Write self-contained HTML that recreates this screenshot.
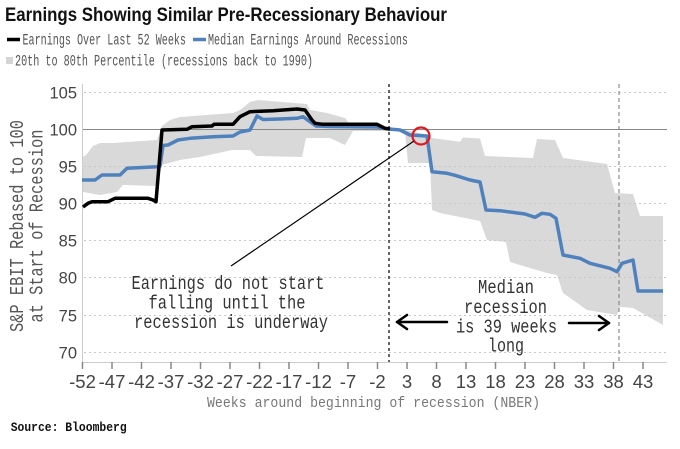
<!DOCTYPE html>
<html>
<head>
<meta charset="utf-8">
<style>
html,body{margin:0;padding:0;background:#fff;}
svg{display:block;}
</style>
</head>
<body>
<svg width="680" height="449" viewBox="0 0 680 449" xmlns="http://www.w3.org/2000/svg">
<rect x="0" y="0" width="680" height="449" fill="#fff"/>

<!-- Title -->
<text x="5" y="21" font-family="Liberation Sans, sans-serif" font-weight="bold" font-size="19" fill="#111" textLength="442" lengthAdjust="spacingAndGlyphs">Earnings Showing Similar Pre-Recessionary Behaviour</text>

<!-- Legend -->
<line x1="7" y1="39.5" x2="20" y2="39.5" stroke="#000" stroke-width="3.5"/>
<text x="22.5" y="44.5" font-family="Liberation Mono, monospace" font-size="15.5" fill="#555" textLength="163.5" lengthAdjust="spacingAndGlyphs">Earnings Over Last 52 Weeks</text>
<line x1="193" y1="39.5" x2="206" y2="39.5" stroke="#4f81bd" stroke-width="3.5"/>
<text x="208" y="44.5" font-family="Liberation Mono, monospace" font-size="15.5" fill="#555" textLength="200" lengthAdjust="spacingAndGlyphs">Median Earnings Around Recessions</text>
<rect x="6" y="57" width="7" height="7" fill="#d4d4d4"/>
<text x="15" y="65.5" font-family="Liberation Mono, monospace" font-size="15.5" fill="#555" textLength="298" lengthAdjust="spacingAndGlyphs">20th to 80th Percentile (recessions back to 1990)</text>

<!-- Gray band -->
<polygon fill="#d9d9d9" points="
82,157 86,155 93,146 100,143 113,143 157,140 162,126 170,120 180,117 233,113 240,110 250,102 258,100 307,104 310,110 327,113 345,118 353,128 389,128 400,128.5 410,131 428,135 432,138 460,141.7 463,137.5 480,138.5 485,156 533,158 537,139 555,140 563,158 607,164 615,193 633,194 640,216 663,216
663,325 633,308 620,307 617,315 587,310 563,293 557,275 547,273 530,268 510,262 506,242 487,240 480,221 440,213 432,210 430,163 408,163 405,131 389,131 353,131 345,145 330,138 306,138 302,157 256,156 250,150 232,150 200,157 180,160 162,165 157,186 123,185 117,192 100,195 83,192"/>

<!-- Gridlines -->
<g stroke="#c8c8c8" stroke-width="1" stroke-dasharray="2,3">
<line x1="84" y1="92.5" x2="667" y2="92.5"/>
<line x1="84" y1="166.5" x2="667" y2="166.5"/>
<line x1="84" y1="203.5" x2="667" y2="203.5"/>
<line x1="84" y1="240.5" x2="667" y2="240.5"/>
<line x1="84" y1="277.5" x2="667" y2="277.5"/>
<line x1="84" y1="315.5" x2="667" y2="315.5"/>
<line x1="84" y1="352.5" x2="667" y2="352.5"/>
</g>
<line x1="82" y1="129.5" x2="667" y2="129.5" stroke="#888" stroke-width="1"/>

<!-- Axes -->
<line x1="82.5" y1="84" x2="82.5" y2="362" stroke="#ccc" stroke-width="1"/>
<line x1="82" y1="362.5" x2="667" y2="362.5" stroke="#ccc" stroke-width="1"/>
<g stroke="#888" stroke-width="1.5">
<line x1="82.5" y1="362" x2="82.5" y2="369"/>
<line x1="112" y1="362" x2="112" y2="369"/>
<line x1="141.5" y1="362" x2="141.5" y2="369"/>
<line x1="171" y1="362" x2="171" y2="369"/>
<line x1="200.5" y1="362" x2="200.5" y2="369"/>
<line x1="230" y1="362" x2="230" y2="369"/>
<line x1="259.5" y1="362" x2="259.5" y2="369"/>
<line x1="289" y1="362" x2="289" y2="369"/>
<line x1="318.5" y1="362" x2="318.5" y2="369"/>
<line x1="348" y1="362" x2="348" y2="369"/>
<line x1="377.5" y1="362" x2="377.5" y2="369"/>
<line x1="407" y1="362" x2="407" y2="369"/>
<line x1="436.5" y1="362" x2="436.5" y2="369"/>
<line x1="466" y1="362" x2="466" y2="369"/>
<line x1="495.5" y1="362" x2="495.5" y2="369"/>
<line x1="525" y1="362" x2="525" y2="369"/>
<line x1="554.5" y1="362" x2="554.5" y2="369"/>
<line x1="584" y1="362" x2="584" y2="369"/>
<line x1="613.5" y1="362" x2="613.5" y2="369"/>
<line x1="643" y1="362" x2="643" y2="369"/>
</g>

<!-- Dashed verticals -->
<line x1="389" y1="84" x2="389" y2="362" stroke="#333" stroke-width="1.5" stroke-dasharray="3,3"/>
<line x1="619" y1="84" x2="619" y2="362" stroke="#777" stroke-width="1" stroke-dasharray="4,3"/>

<!-- Blue median -->
<polyline fill="none" stroke="#4f81bd" stroke-width="3.5" stroke-linejoin="round" points="82,180 95,180 102,175 120,175 127,168.3 157,166.7 160,166 163,145.5 168,145 178,140 190,138.3 213,136.7 233,136 240,132 250,130 257,116 263,119.5 280,119 297,118.3 303,116.7 310,121.7 316,126 330,126.5 377,127 389,129 400,130 410,135 427,136 432,171.7 447,173.3 455,175.3 470,180 480,182 486,210 500,210.7 525,214 535,217.3 542,213.3 550,214.3 556,218.3 563,255 580,258.3 590,263.3 610,268.3 617,271.7 622,263.3 633,260 638,291 663,291"/>

<!-- Black earnings -->
<polyline fill="none" stroke="#000" stroke-width="3.5" stroke-linejoin="round" points="83,207 88,203.3 92,201.7 108,201.7 115,198.3 148,198.3 153,200 156,201.7 162,130 187,129.3 192,126.7 212,126 214,124.3 233,124.3 240,116.7 250,111.7 273,110.7 297,109 305,110 312,120 315,123.3 323,124.3 377,124.3 385,128.3 390,129"/>

<!-- Red circle and annotation line -->
<circle cx="421" cy="136" r="8.5" fill="none" stroke="#e8141c" stroke-width="2.2"/>
<line x1="414" y1="141" x2="231" y2="266" stroke="#000" stroke-width="1.2"/>

<!-- Y tick labels -->
<g font-family="Liberation Sans, sans-serif" font-size="16.5" fill="#444" text-anchor="end">
<text x="77" y="98.5">105</text>
<text x="77" y="135.5">100</text>
<text x="77" y="172.5">95</text>
<text x="77" y="209.5">90</text>
<text x="77" y="246.5">85</text>
<text x="77" y="283.5">80</text>
<text x="77" y="321.5">75</text>
<text x="77" y="358.5">70</text>
</g>

<!-- X tick labels -->
<g font-family="Liberation Sans, sans-serif" font-size="18.5" fill="#444" text-anchor="middle">
<text x="82.5" y="388">-52</text>
<text x="112" y="388">-47</text>
<text x="141.5" y="388">-42</text>
<text x="171" y="388">-37</text>
<text x="200.5" y="388">-32</text>
<text x="230" y="388">-27</text>
<text x="259.5" y="388">-22</text>
<text x="289" y="388">-17</text>
<text x="318.5" y="388">-12</text>
<text x="348" y="388">-7</text>
<text x="377.5" y="388">-2</text>
<text x="407" y="388">3</text>
<text x="436.5" y="388">8</text>
<text x="466" y="388">13</text>
<text x="495.5" y="388">18</text>
<text x="525" y="388">23</text>
<text x="554.5" y="388">28</text>
<text x="584" y="388">33</text>
<text x="613.5" y="388">38</text>
<text x="643" y="388">43</text>
</g>

<!-- Axis titles -->
<text x="207" y="407" font-family="Liberation Mono, monospace" font-size="15" fill="#777" textLength="333" lengthAdjust="spacingAndGlyphs">Weeks around beginning of recession (NBER)</text>
<g font-family="Liberation Mono, monospace" font-size="19" fill="#555" text-anchor="middle">
<text transform="translate(23,226) rotate(-90)" textLength="212" lengthAdjust="spacingAndGlyphs">S&amp;P EBIT Rebased to 100</text>
<text transform="translate(42.5,226) rotate(-90)" textLength="193" lengthAdjust="spacingAndGlyphs">at Start of Recession</text>
</g>

<!-- Annotations -->
<g font-family="Liberation Mono, monospace" font-size="19" fill="#333" text-anchor="middle">
<text x="228" y="289" textLength="193" lengthAdjust="spacingAndGlyphs">Earnings do not start</text>
<text x="227" y="308.5" textLength="157" lengthAdjust="spacingAndGlyphs">falling until the</text>
<text x="231" y="328" textLength="194" lengthAdjust="spacingAndGlyphs">recession is underway</text>
<text x="506" y="293" textLength="56" lengthAdjust="spacingAndGlyphs">Median</text>
<text x="505.5" y="313" textLength="83" lengthAdjust="spacingAndGlyphs">recession</text>
<text x="506.5" y="332.5" textLength="101" lengthAdjust="spacingAndGlyphs">is 39 weeks</text>
<text x="506" y="351.5" textLength="36" lengthAdjust="spacingAndGlyphs">long</text>
</g>

<!-- Arrows -->
<g stroke="#000" stroke-width="2.5" fill="none" stroke-linecap="round" stroke-linejoin="round">
<line x1="447" y1="322" x2="397" y2="322"/>
<polyline points="407,315 397,322 407,329"/>
<line x1="569" y1="323" x2="609" y2="323"/>
<polyline points="599,316 609,323 599,330"/>
</g>

<!-- Source -->
<text x="10.7" y="431" font-family="Liberation Mono, monospace" font-weight="bold" font-size="13" fill="#111" textLength="116" lengthAdjust="spacingAndGlyphs">Source: Bloomberg</text>
</svg>
</body>
</html>
